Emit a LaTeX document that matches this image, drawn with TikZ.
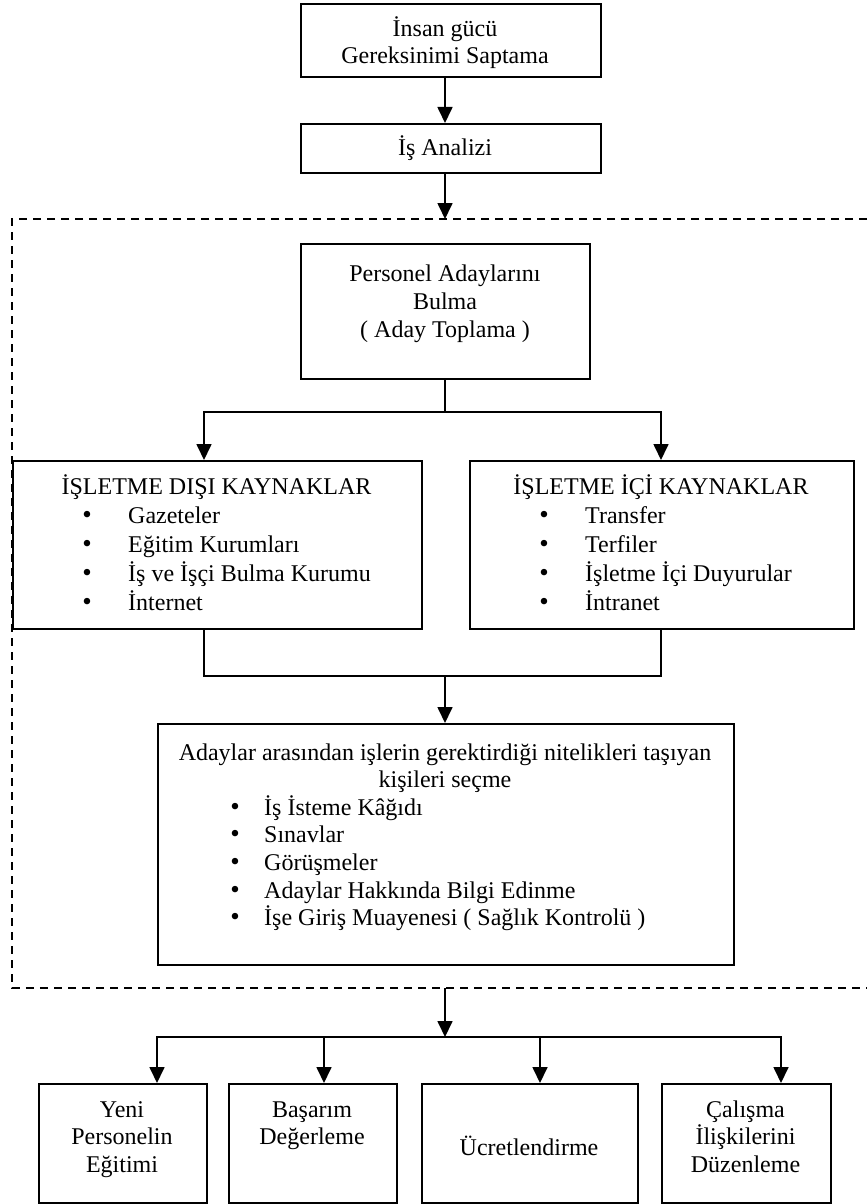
\documentclass[tikz,border=0pt]{standalone}
\usepackage{fontspec}
\setmainfont{Liberation Serif}
\usetikzlibrary{arrows.meta}
\begin{document}
\begin{tikzpicture}[x=1pt,y=-1pt,
  box/.style={draw, line width=1.7pt, fill=white, inner sep=0pt, anchor=north west},
  conn/.style={line width=1.7pt},
  arr/.style={conn, -{Triangle[length=16pt,width=15pt]}},
  frameline/.style={line width=1.7pt, dash pattern=on 8pt off 6pt},
  txt/.style={anchor=base, inner sep=0pt, font=\fontsize{24}{28}\selectfont},
  lft/.style={txt, anchor=base west},
  bul/.style={anchor=base, inner sep=0pt, font=\fontsize{27}{28}\selectfont}]
\useasboundingbox (0,0) rectangle (867,1204);

% dashed frame around the recruitment and selection stages (open on the right)
\draw[frameline] (867,219) -- (12,219) -- (12,988) -- (867,988);

% boxes
\node[box, minimum width=300pt, minimum height=73pt] (b1) at (300,3) {};
\node[box, minimum width=300pt, minimum height=49pt] (b2) at (300,123) {};
\node[box, minimum width=289pt, minimum height=135pt] (b3) at (300,243) {};
\node[box, minimum width=409pt, minimum height=168pt] (bL) at (12,460) {};
\node[box, minimum width=384pt, minimum height=168pt] (bR) at (469,460) {};
\node[box, minimum width=576pt, minimum height=241pt] (b6) at (157,723) {};
\node[box, minimum width=168pt, minimum height=119pt] (y1) at (38,1083) {};
\node[box, minimum width=168pt, minimum height=119pt] (y2) at (228,1083) {};
\node[box, minimum width=216pt, minimum height=119pt] (y3) at (421,1083) {};
\node[box, minimum width=169pt, minimum height=119pt] (y4) at (661,1083) {};

% texts
\node[txt] (t1a) at (445,37) {İnsan gücü};
\node[txt] (t1b) at (445,64) {Gereksinimi Saptama};
\node[txt] (t2) at (445,155) {İş Analizi};
\node[txt] (t3a) at (445,281) {Personel Adaylarını};
\node[txt] (t3b) at (445,309) {Bulma};
\node[txt] (t3c) at (445,337) {( Aday Toplama )};

\node[txt] (tL) at (216.5,494) {İŞLETME DIŞI KAYNAKLAR};
\foreach \t [count=\i from 0] in {Gazeteler, Eğitim Kurumları, İş ve İşçi Bulma Kurumu, İnternet} {
  \node[bul] (lb\i) at (87,{523+29*\i}) {•};
  \node[lft] (lt\i) at (128,{523+29*\i}) {\t};
}
\node[txt] (tR) at (661,494) {İŞLETME İÇİ KAYNAKLAR};
\foreach \t [count=\i from 0] in {Transfer, Terfiler, İşletme İçi Duyurular, İntranet} {
  \node[bul] (rb\i) at (544,{523+29*\i}) {•};
  \node[lft] (rt\i) at (585,{523+29*\i}) {\t};
}

\node[txt] (t6a) at (445,760) {Adaylar arasından işlerin gerektirdiği nitelikleri taşıyan};
\node[txt] (t6b) at (445,787.6) {kişileri seçme};
\foreach \t [count=\i from 0] in {İş İsteme Kâğıdı, Sınavlar, Görüşmeler, Adaylar Hakkında Bilgi Edinme, İşe Giriş Muayenesi ( Sağlık Kontrolü )} {
  \node[bul] (sb\i) at (235,{815.2+27.6*\i}) {•};
  \node[lft] (st\i) at (264,{815.2+27.6*\i}) {\t};
}

\node[txt] (y1a) at (122,1117) {Yeni};
\node[txt] (y1b) at (122,1144.6) {Personelin};
\node[txt] (y1c) at (122,1172) {Eğitimi};
\node[txt] (y2a) at (312,1117) {Başarım};
\node[txt] (y2b) at (312,1144.6) {Değerleme};
\node[txt] (y3a) at (529,1155) {Ücretlendirme};
\node[txt] (y4a) at (745.5,1117) {Çalışma};
\node[txt] (y4b) at (745.5,1144.6) {İlişkilerini};
\node[txt] (y4c) at (745.5,1172) {Düzenleme};

% connector anchor points
\coordinate (ax) at (445,0);
\coordinate (ftop) at (445,219);
\coordinate (fbot) at (445,988);
\coordinate (br) at (445,412);
\coordinate (lx) at (204,0);
\coordinate (rx) at (661,0);
\coordinate (mg) at (445,676);
\coordinate (dist) at (445,1037);
\coordinate (d1) at (157,1037);
\coordinate (d2) at (324,1037);
\coordinate (d3) at (540,1037);
\coordinate (d4) at (781,1037);

% connectors
\draw[arr] (b1.south -| ax) -- (b2.north -| ax);
\draw[arr] (b2.south -| ax) -- (ftop);
\draw[conn] (b3.south -| br) -- (br);
\draw[arr] (br) -| (bL.north -| lx);
\draw[arr] (br) -| (bR.north -| rx);
\draw[conn] (bL.south -| lx) |- (mg) -| (bR.south -| rx);
\draw[arr] (mg) -- (b6.north -| mg);
\draw[arr] (fbot) -- (dist);
\draw[arr] (dist) -| (y1.north -| d1);
\draw[arr] (dist) -| (y4.north -| d4);
\draw[arr] (d2) -- (y2.north -| d2);
\draw[arr] (d3) -- (y3.north -| d3);
\end{tikzpicture}
\end{document}
